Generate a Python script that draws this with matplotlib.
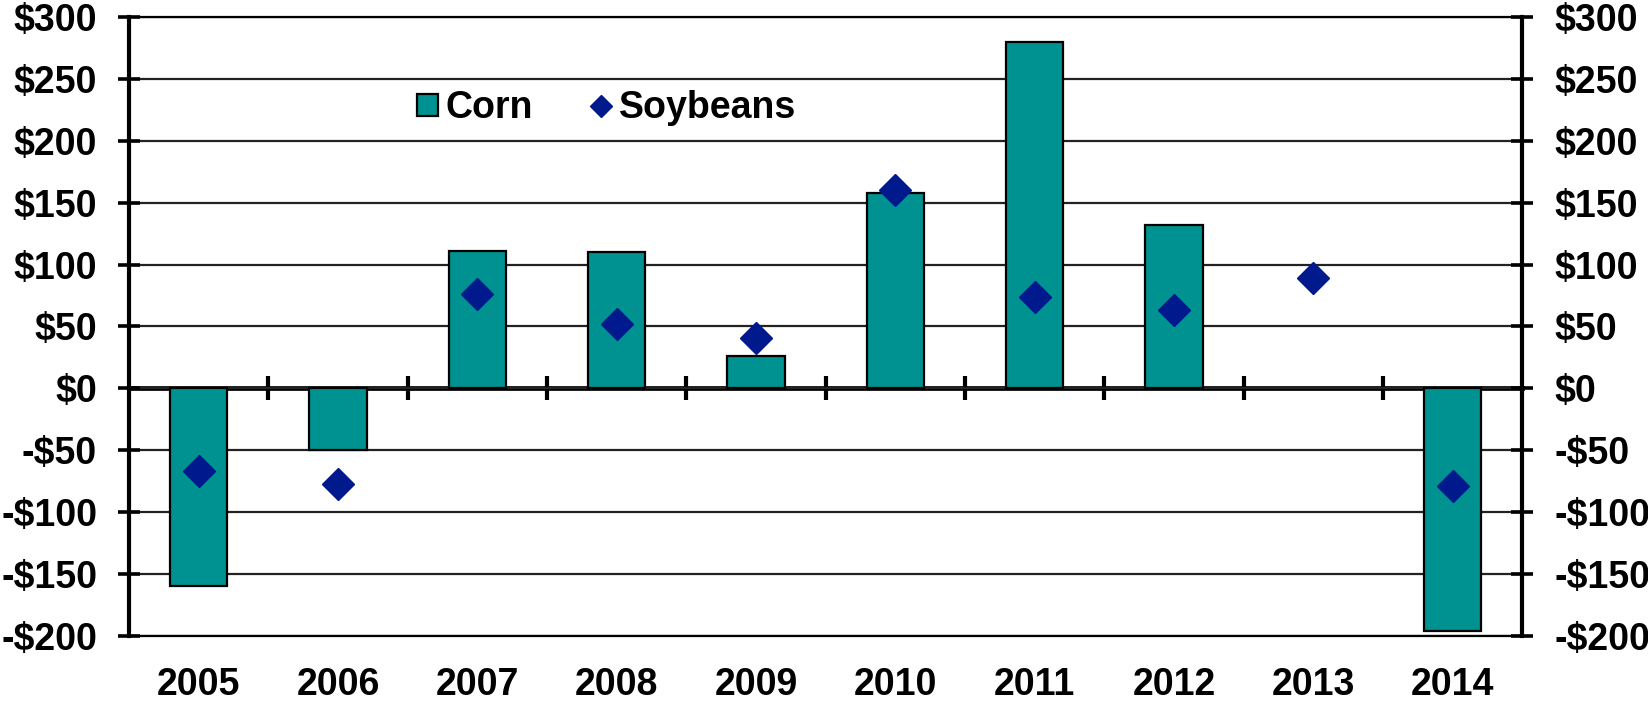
import matplotlib.pyplot as plt
import matplotlib.patches as patches
from matplotlib.lines import Line2D
import numpy as np

plt.rcParams['font.family'] = ['Liberation Sans', 'DejaVu Sans']
plt.rcParams['font.weight'] = 'bold'

# data
years = ['2005', '2006', '2007', '2008', '2009', '2010', '2011', '2012', '2013', '2014']
corn = [-160, -50, 111, 110, 26, 158, 280, 132, np.nan, -196]
soybeans = [-67, -77, 76, 52, 41, 160, 74, 63, 89, -79]
yticks = [-200, -150, -100, -50, 0, 50, 100, 150, 200, 250, 300]

teal = '#009290'
navy = '#001A8E'
fs = 27

fig = plt.figure(figsize=(16.48, 7.02), dpi=100)
ax = fig.add_axes([0.0783, 0.094, 0.9237 - 0.0783, 0.976 - 0.094])

x = np.arange(len(years))
c = np.array(corn, dtype=float)
ok = ~np.isnan(c)
ax.bar(x[ok], c[ok], width=0.41, color=teal, edgecolor='black', linewidth=1.6, zorder=3)
ax.plot(x, soybeans, linestyle='none', marker='D', markersize=16,
        color=navy, zorder=4)

ax.set_xlim(-0.5, len(years) - 0.5)
ax.set_ylim(-200, 300)
ax.set_yticks(yticks)
ax.set_yticklabels([('-$%d' % -v) if v < 0 else ('$%d' % v) for v in yticks])
ax.yaxis.grid(True, color='#222222', linewidth=1.6, zorder=0)

# x labels at the bottom, no ticks there
ax.set_xticks(x)
ax.set_xticklabels(years)
ax.tick_params(axis='x', length=0, pad=22, labelsize=fs)
ax.tick_params(axis='y', direction='inout', length=16, width=2.6, pad=15,
               labelsize=fs, left=True, right=True, labelleft=True, labelright=True)
ax.spines['top'].set_linewidth(1.6)
ax.spines['bottom'].set_linewidth(1.6)
ax.spines['left'].set_linewidth(3)
ax.spines['right'].set_linewidth(3)

# zero line with ticks between the years
zero = ax.secondary_xaxis(0.4)
zero.set_xticks(np.arange(len(years) - 1) + 0.5)
zero.set_xticklabels([])
zero.tick_params(direction='inout', length=17, width=3)
zero.spines['bottom'].set_linewidth(3.4)

handles = [patches.Patch(facecolor=teal, edgecolor='black', linewidth=1.6, label='Corn'),
           Line2D([], [], linestyle='none', marker='D', markersize=11, color=navy, label='Soybeans')]
fig.legend(handles=handles, loc='center', bbox_to_anchor=(0.368, 0.846), ncol=2,
           frameon=False, fontsize=fs, handlelength=0.55, handleheight=0.55,
           handletextpad=0.2, columnspacing=1.55)

fig.savefig('out.png', dpi=100)
